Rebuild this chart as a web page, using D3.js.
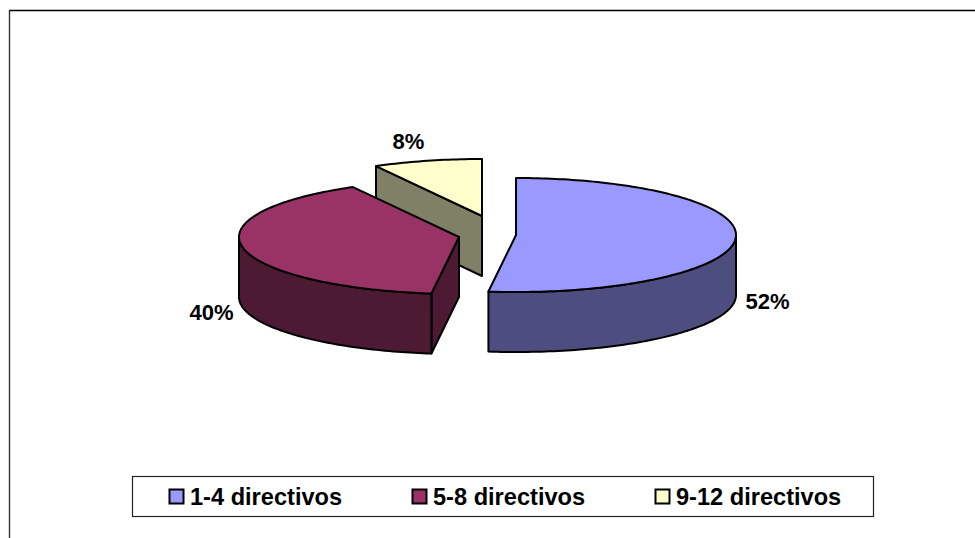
<!DOCTYPE html>
<html lang="es">
<head>
<meta charset="utf-8">
<title>Directivos</title>
<script src="https://cdn.jsdelivr.net/npm/d3@7/dist/d3.min.js"></script>
<style>
  html, body { margin: 0; padding: 0; background: #fff; overflow: hidden; }
  svg { display: block; }
  text { font-family: "Liberation Sans", Arial, sans-serif; font-weight: bold; fill: #000; }
</style>
</head>
<body>
<svg id="chart" width="975" height="538"></svg>
<script>
const categories = ["1-4 directivos", "5-8 directivos", "9-12 directivos"];
const values = [52, 40, 8];
const topColors = ["#9999FF", "#993366", "#FFFFCC"];
const sideColors = ["#4D4D80", "#4D1A33", "#808066"];

const svg = d3.select("#chart");
const W = 975, H = 538;

// Outer frame: only the top and left edges fall inside the page.
svg.append("line").attr("x1", 9).attr("x2", W).attr("y1", 10.5).attr("y2", 10.5)
  .attr("stroke", "#000").attr("stroke-width", 1.4);
svg.append("line").attr("x1", 9.5).attr("x2", 9.5).attr("y1", 10).attr("y2", H)
  .attr("stroke", "#333").attr("stroke-width", 1.4);

// Pie geometry: an ellipse of radii rx/ry, extruded downwards by `depth`.
const rx = 220, ry = 57, depth = 60;
const centers = [[516, 235], [459, 237], [482, 216]];

const slices = d3.pie().sort(null).value(d => d)(values);
const topColor = d3.scaleOrdinal().domain(categories).range(topColors);
const sideColor = d3.scaleOrdinal().domain(categories).range(sideColors);

const rim = (c, a) => [c[0] + rx * Math.sin(a), c[1] - ry * Math.cos(a)];
const arcPoints = (c, a0, a1) => {
  const n = Math.max(2, Math.ceil(Math.abs(a1 - a0) / 0.02));
  return d3.range(n + 1).map(i => rim(c, a0 + (a1 - a0) * i / n));
};
const line = d3.line();
const drop = p => [p[0], p[1] + depth];

const pieGroup = svg.append("g")
  .attr("stroke", "#000").attr("stroke-width", 2).attr("stroke-linejoin", "round");

// Painted back to front: small slice, middle slice, large slice.
[2, 1, 0].forEach(i => {
  const s = slices[i], c = centers[i], name = categories[i];
  const g = pieGroup.append("g");
  const side = sideColor(name);

  // The straight cut face at the start of a slice turns towards the viewer
  // once the slice begins on the left half of the ellipse.
  const startRim = rim(c, s.startAngle);
  if (s.startAngle > Math.PI) {
    g.append("path").attr("fill", side)
      .attr("d", line([startRim, c, drop(c), drop(startRim)]) + "Z");
  }

  // Curved outer wall, limited to the front half of the ellipse.
  const a0 = Math.max(s.startAngle, Math.PI / 2);
  const a1 = Math.min(s.endAngle, 1.5 * Math.PI);
  if (a1 > a0) {
    const upper = arcPoints(c, a0, a1);
    g.append("path").attr("fill", side)
      .attr("d", line(upper.concat(upper.slice().reverse().map(drop))) + "Z");
  }

  // Top face.
  g.append("path").attr("fill", topColor(name))
    .attr("d", line([c].concat(arcPoints(c, s.startAngle, s.endAngle))) + "Z");
});

// Percentage labels beside each slice.
const labelSpots = [[767.5, 301], [211.5, 312], [408.5, 141]];
svg.append("g").selectAll("text").data(values).join("text")
  .attr("x", (d, i) => labelSpots[i][0])
  .attr("y", (d, i) => labelSpots[i][1])
  .attr("text-anchor", "middle").attr("dominant-baseline", "central")
  .attr("font-size", 22)
  .text(d => d + "%");

// Legend box.
const legend = svg.append("g");
legend.append("rect").attr("x", 132.5).attr("y", 476.5).attr("width", 741).attr("height", 40)
  .attr("fill", "#fff").attr("stroke", "#222").attr("stroke-width", 1.2);
const legendX = d3.scaleOrdinal().domain(categories).range([169, 412, 655]);
const items = legend.selectAll("g").data(categories).join("g")
  .attr("transform", d => `translate(${legendX(d)},0)`);
items.append("rect").attr("x", 0.5).attr("y", 489.5).attr("width", 14).attr("height", 14)
  .attr("fill", d => topColor(d)).attr("stroke", "#000").attr("stroke-width", 2);
items.append("text").attr("x", 21).attr("y", 505).attr("font-size", 23.6).text(d => d);
</script>
</body>
</html>
